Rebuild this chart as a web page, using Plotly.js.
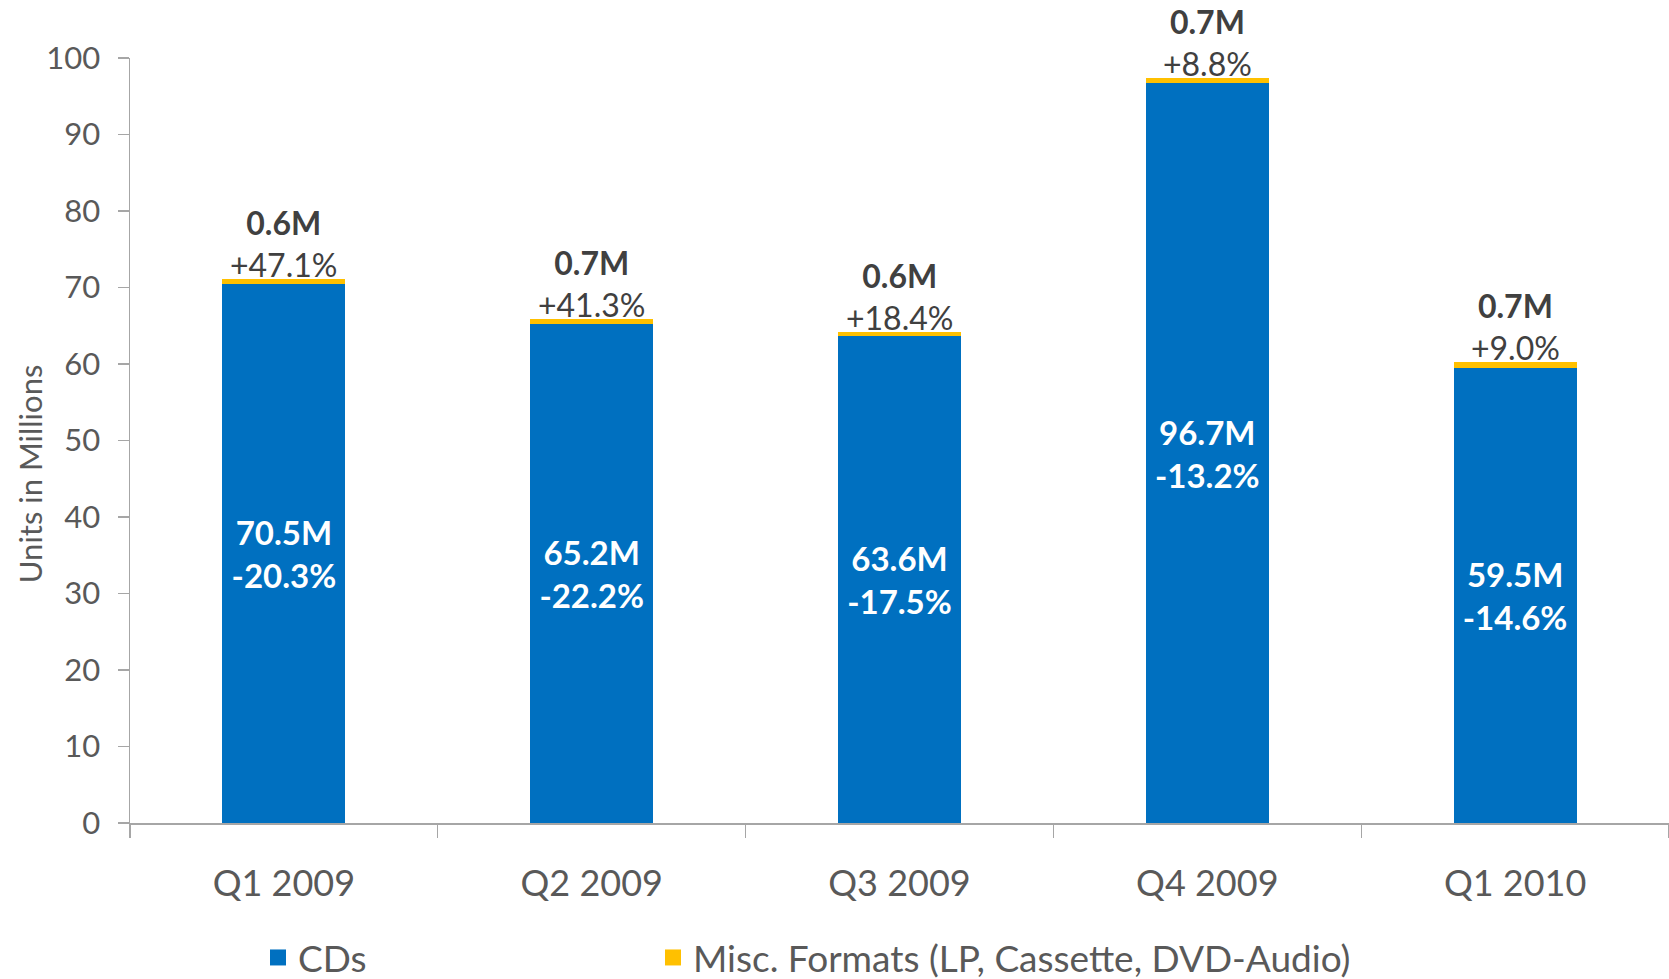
<!DOCTYPE html>
<html>
<head>
<meta charset="utf-8">
<script src="https://cdn.plot.ly/plotly-3.0.1.min.js"></script>
<style>
html,body{margin:0;padding:0;background:#fff;}
#chart{width:1669px;height:979px;}
</style>
</head>
<body>
<div id="chart"></div>
<script>
const quarters = ['Q1 2009', 'Q2 2009', 'Q3 2009', 'Q4 2009', 'Q1 2010'];
const cdUnits = [70.5, 65.2, 63.6, 96.7, 59.5];
const cdChange = ['-20.3%', '-22.2%', '-17.5%', '-13.2%', '-14.6%'];
const miscUnits = [0.6, 0.7, 0.6, 0.7, 0.7];
const miscChange = ['+47.1%', '+41.3%', '+18.4%', '+8.8%', '+9.0%'];
const yTicks = [0, 10, 20, 30, 40, 50, 60, 70, 80, 90, 100];
const seriesNames = ['CDs', 'Misc. Formats (LP, Cassette, DVD-Audio)'];
const seriesColors = ['#0070C0', '#FFC000'];

const FONT = 'Lato, "Open Sans", sans-serif';
const AXIS_GRAY = '#595959';
const LINE_GRAY = '#A6A6A6';

const W = 1669, H = 979;
const M = {l: 130, r: 0, t: 57.5, b: 156};
const plotW = W - M.l - M.r;
const plotH = H - M.t - M.b;
const px = v => (v - M.l) / plotW;          // container px -> paper x
const py = v => (H - M.b - v) / plotH;      // container px -> paper y

const cdText = cdUnits.map((v, i) => '<b>' + v.toFixed(1) + 'M</b><br><b>' + cdChange[i] + '</b>');

const traces = [
  {
    type: 'bar',
    name: seriesNames[0],
    x: quarters,
    y: cdUnits,
    marker: {color: seriesColors[0], line: {width: 0}},
    text: cdText,
    textposition: 'inside',
    insidetextanchor: 'middle',
    textangle: 0,
    constraintext: 'none',
    textfont: {family: FONT, size: 33, color: '#FFFFFF'},
    showlegend: false,
    hoverinfo: 'x+y'
  },
  {
    type: 'bar',
    name: seriesNames[1],
    x: quarters,
    y: miscUnits,
    marker: {color: seriesColors[1], line: {width: 0}},
    showlegend: false,
    hoverinfo: 'x+y'
  },
  // legend entries (square swatches like the original)
  {
    type: 'scatter', mode: 'markers', name: seriesNames[0],
    x: [null], y: [null],
    marker: {symbol: 'square', size: 18, color: seriesColors[0]},
    legend: 'legend', showlegend: true
  },
  {
    type: 'scatter', mode: 'markers', name: seriesNames[1],
    x: [null], y: [null],
    marker: {symbol: 'square', size: 18, color: seriesColors[1]},
    legend: 'legend2', showlegend: true
  }
];

const annotations = quarters.map((q, i) => ({
  x: q,
  y: cdUnits[i] + miscUnits[i],
  xref: 'x',
  yref: 'y',
  text: '<b>' + miscUnits[i].toFixed(1) + 'M</b><br>' + miscChange[i],
  showarrow: false,
  yanchor: 'bottom',
  yshift: -7,
  font: {family: FONT, size: 32, color: '#404040'}
}));

annotations.push({
  xref: 'paper', yref: 'paper',
  x: px(30),
  y: py(474),
  text: 'Units in Millions',
  textangle: -90,
  showarrow: false,
  xanchor: 'center', yanchor: 'middle',
  font: {family: FONT, size: 31, color: AXIS_GRAY}
});

const legendBase = {
  orientation: 'h',
  xanchor: 'left',
  yanchor: 'middle',
  y: py(958),
  font: {family: FONT, size: 37, color: AXIS_GRAY},
  bgcolor: 'rgba(0,0,0,0)',
  itemsizing: 'trace'
};

const layout = {
  width: W,
  height: H,
  margin: {l: M.l, r: M.r, t: M.t, b: M.b, pad: 0, autoexpand: false},
  paper_bgcolor: '#FFFFFF',
  plot_bgcolor: '#FFFFFF',
  barmode: 'stack',
  bargap: 0.6,
  font: {family: FONT, color: AXIS_GRAY},
  xaxis: {
    type: 'category',
    tickson: 'boundaries',
    ticks: 'outside',
    ticklen: 13,
    tickcolor: LINE_GRAY,
    tickwidth: 1.3,
    showline: true,
    linecolor: LINE_GRAY,
    linewidth: 2,
    showgrid: false,
    zeroline: false,
    ticklabelstandoff: 28,
    tickfont: {family: FONT, size: 36, color: AXIS_GRAY}
  },
  yaxis: {
    range: [0, 100],
    tickvals: yTicks,
    ticks: 'outside',
    ticklen: 11,
    tickcolor: LINE_GRAY,
    tickwidth: 1.3,
    showline: true,
    linecolor: LINE_GRAY,
    linewidth: 1.5,
    showgrid: false,
    zeroline: false,
    ticklabelstandoff: 11,
    tickfont: {family: FONT, size: 31, color: AXIS_GRAY}
  },
  showlegend: true,
  legend: Object.assign({}, legendBase, {x: px(258)}),
  legend2: Object.assign({}, legendBase, {x: px(653)}),
  annotations: annotations
};

Plotly.newPlot('chart', traces, layout, {displayModeBar: false, staticPlot: true});
</script>
</body>
</html>
